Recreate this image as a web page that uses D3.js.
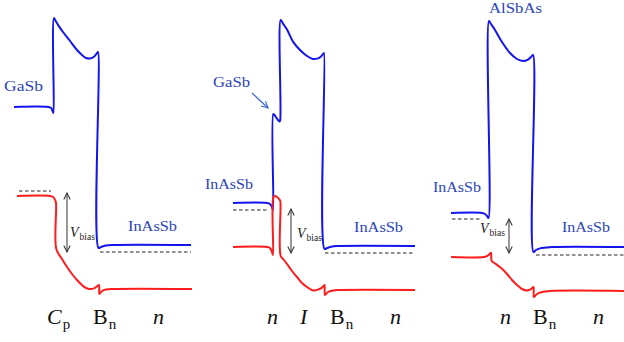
<!DOCTYPE html>
<html>
<head>
<meta charset="utf-8">
<script src="https://cdn.jsdelivr.net/npm/d3@7"></script>
<style>
  html, body { margin: 0; padding: 0; background: #fff; }
  svg { display: block; }
</style>
</head>
<body>
<svg id="chart" width="624" height="342"></svg>
<script>
// Band-edge profiles: [position (nm), energy (meV)]

// Panel 1: GaSb C_p / B_n / n-InAsSb
const p1Conduction = [[0,965],[34,965],[37,960],[39,940],[39.5,935],[40,1410],[42,1392],[45,1368],[49,1340],[56,1295],[63,1250],[68,1225],[72,1210],[76,1208],[80,1216],[83,1234],[84,1240],[84.5,260],[87,265],[92,272],[98,275],[177,275]];
const p1Valence = [[3,520],[36,520],[39,515],[41,502],[42,485],[42.3,255],[48,205],[53,165],[58,130],[63,100],[68,75],[72,60],[76,55],[80,58],[83,68],[85,75],[85.4,30],[88,45],[92,52],[98,55],[178,55]];
const p1FermiLeft = [[5,545],[37,545]];
const p1FermiRight = [[86,240],[177,240]];
const p1Bias = [53, 535, 240];

// Panel 2: n-InAsSb / GaSb / I / B_n / n-InAsSb
const p2Conduction = [[0,485],[34,485],[37,480],[39,465],[40,450],[40.3,930],[41.5,925],[46.5,892],[47.2,900],[47.7,1400],[50,1382],[54,1352],[60,1292],[67,1250],[74,1220],[80,1205],[85,1208],[88,1218],[90.5,1232],[91,1235],[91.5,255],[94,260],[99,268],[105,270],[182,270]];
const p2Valence = [[0,265],[34,265],[37,260],[39,240],[40,225],[40.4,515],[42,520],[44,515],[46.5,502],[47.3,495],[47.7,220],[51,200],[54,180],[59,145],[64,115],[69,85],[74,65],[80,48],[85,52],[89,62],[91.5,75],[91.9,25],[95,40],[100,48],[107,50],[182,50]];
const p2FermiLeft = [[0,450],[35,450]];
const p2FermiRight = [[92,235],[182,235]];
const p2Bias = [58, 455, 235];

// Panel 3: n-InAsSb / AlSbAs B_n / n-InAsSb
const p3Conduction = [[0,435],[31,435],[34,430],[36,420],[37.5,410],[38,1395],[40,1380],[44,1350],[51,1290],[59,1235],[66,1205],[72,1195],[77,1202],[80,1215],[82,1225],[82.5,240],[85,250],[89,258],[95,262],[101,265],[173,265]];
const p3Valence = [[0,215],[33,215],[36,220],[38.5,229],[40,236],[40.6,196],[43,186],[47,172],[51,156],[56,130],[61,100],[66,75],[71,55],[76,48],[80,54],[82.5,65],[82.9,15],[86,30],[91,40],[99,45],[173,45]];
const p3FermiLeft = [[1,405],[31,405]];
const p3FermiRight = [[85,225],[173,225]];
const p3Bias = [58, 405, 235];

// Material labels: [text, position, energy, width]
const p1Materials = [["GaSb",-10,1045,39],["InAsSb",114,345,49]];
const p2Materials = [["GaSb",-20,1065,37],["InAsSb",-28,555,48],["InAsSb",121,340,49]];
const p3Materials = [["AlSbAs",38,1435,53],["InAsSb",-18,540,48],["InAsSb",111,340,48]];

// Layer labels along the bottom: [main, subscript, italic, position]
const p1Layers = [["C","p",true,33],["B","n",false,79],["n","",true,139]];
const p2Layers = [["n","",true,34],["I","",true,67],["B","n",false,97],["n","",true,157]];
const p3Layers = [["n","",true,49],["B","n",false,82],["n","",true,142]];

// V_bias label anchor per panel: [position, energy]
const biasLabels = [[56,315],[64,310],[29,335]];

// GaSb pointer in panel 2: from / to
const p2Pointer = [[19,1035],[35,960]];

const layerEnergy = -120;
const serif = "Liberation Serif";

const svg = d3.select("#chart");
const blue = "#1414ec", red = "#ff1c1c", textBlue = "#2b44b8";

const y = d3.scaleLinear().domain([0, 1500]).range([300, 0]);

const defs = svg.append("defs");
function chevron(id, color) {
  defs.append("marker")
    .attr("id", id).attr("viewBox", "0 0 10 10")
    .attr("refX", 9).attr("refY", 5)
    .attr("markerWidth", 8).attr("markerHeight", 8)
    .attr("markerUnits", "userSpaceOnUse")
    .attr("orient", "auto-start-reverse")
    .append("path").attr("d", "M1,1 L9,5 L1,9")
    .attr("fill", "none").attr("stroke", color).attr("stroke-width", 1.3);
}
chevron("arrBias", "#333");
chevron("arrBlue", "#3a64d4");

const panels = [
  { x0: 14,  cb: p1Conduction, vb: p1Valence, fl: p1FermiLeft, fr: p1FermiRight, bias: p1Bias, mats: p1Materials, layers: p1Layers },
  { x0: 233, cb: p2Conduction, vb: p2Valence, fl: p2FermiLeft, fr: p2FermiRight, bias: p2Bias, mats: p2Materials, layers: p2Layers },
  { x0: 451, cb: p3Conduction, vb: p3Valence, fl: p3FermiLeft, fr: p3FermiRight, bias: p3Bias, mats: p3Materials, layers: p3Layers }
];

panels.forEach((p, i) => {
  const x = d3.scaleLinear().domain([0, 180]).range([p.x0, p.x0 + 180]);
  const g = svg.append("g");
  const smooth = d3.line().x(d => x(d[0])).y(d => y(d[1])).curve(d3.curveCatmullRom.alpha(0.5));
  const straight = d3.line().x(d => x(d[0])).y(d => y(d[1]));

  // quasi-Fermi levels
  [p.fl, p.fr].forEach(seg => {
    g.append("path").attr("d", straight(seg))
      .attr("fill", "none").attr("stroke", "#222").attr("stroke-width", 1)
      .attr("stroke-dasharray", "3.5,2.5");
  });

  // band edges
  g.append("path").attr("d", smooth(p.cb))
    .attr("fill", "none").attr("stroke", blue).attr("stroke-width", 2)
    .attr("stroke-linejoin", "round");
  g.append("path").attr("d", smooth(p.vb))
    .attr("fill", "none").attr("stroke", red).attr("stroke-width", 2)
    .attr("stroke-linejoin", "round");

  // bias arrow
  g.append("line")
    .attr("x1", x(p.bias[0])).attr("x2", x(p.bias[0]))
    .attr("y1", y(p.bias[1])).attr("y2", y(p.bias[2]))
    .attr("stroke", "#333").attr("stroke-width", 1)
    .attr("marker-start", "url(#arrBias)").attr("marker-end", "url(#arrBias)");

  const bl = biasLabels[i];
  const vt = g.append("text").attr("x", x(bl[0])).attr("y", y(bl[1]))
    .attr("font-family", serif).attr("font-size", 14).attr("fill", "#222");
  vt.append("tspan").attr("font-style", "italic").text("V");
  vt.append("tspan").attr("font-size", 9.5).attr("dy", 2.5).attr("dx", 1).text("bias");

  // material names
  p.mats.forEach(m => {
    g.append("text").attr("x", x(m[1])).attr("y", y(m[2]))
      .attr("font-family", serif).attr("font-size", 14.5).attr("fill", textBlue)
      .attr("textLength", m[3]).attr("lengthAdjust", "spacingAndGlyphs")
      .text(m[0]);
  });

  // layer names
  p.layers.forEach(l => {
    const t = g.append("text").attr("x", x(l[3])).attr("y", y(layerEnergy))
      .attr("font-family", serif).attr("font-size", 22).attr("fill", "#111");
    t.append("tspan").attr("font-style", l[2] ? "italic" : "normal").text(l[0]);
    if (l[1]) t.append("tspan").attr("font-size", 15).attr("dy", 5).attr("dx", 1).text(l[1]);
  });

  if (i === 1) {
    g.append("line")
      .attr("x1", x(p2Pointer[0][0])).attr("y1", y(p2Pointer[0][1]))
      .attr("x2", x(p2Pointer[1][0])).attr("y2", y(p2Pointer[1][1]))
      .attr("stroke", "#3a64d4").attr("stroke-width", 1.2)
      .attr("marker-end", "url(#arrBlue)");
  }
});
</script>
</body>
</html>
